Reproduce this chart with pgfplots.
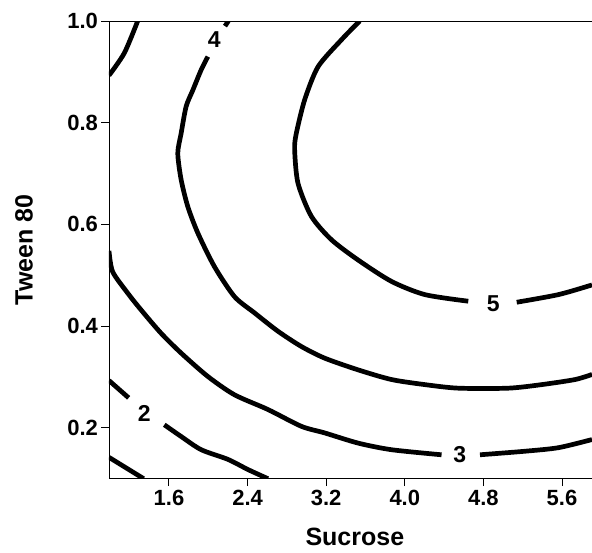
\documentclass[border=0pt]{standalone}
\usepackage{fontspec}
\setmainfont{Liberation Sans}
\usepackage{pgfplots}
\pgfplotsset{compat=1.18}
\begin{document}
\begin{tikzpicture}
\begin{axis}[
  name=ax,
  anchor=south west, at={(0,0)},
  scale only axis, width=483pt, height=457.7pt,
  xmin=0.99, xmax=5.905, ymin=0.1, ymax=1.0,
  axis line style={draw=none},
  xtick={1.6,2.4,3.2,4.0,4.8,5.6},
  ytick={0.2,0.4,0.6,0.8,1.0},
  tick align=outside, major tick length=7.5pt,
  tick style={black, line width=0.9pt},
  xtick pos=bottom, ytick pos=left,
  /pgf/number format/assume math mode=true,
  /pgf/number format/fixed, /pgf/number format/fixed zerofill, /pgf/number format/precision=1,
  tick label style={font=\fontsize{22}{24}\selectfont\bfseries},
  xlabel={Sucrose}, ylabel={Tween 80},
  label style={font=\fontsize{25}{30}\selectfont\bfseries},
  xlabel style={at={(axis description cs:0.509,-0.145)}, anchor=base},
  ylabel style={at={(axis description cs:-0.176,0.5)}, anchor=center},
  cl/.style={black, solid, line width=4.7pt, line join=round, line cap=butt, mark=none, smooth, tension=0.45},
  clip=true,
]
% contour 1
\addplot[cl] coordinates {(0.99,0.142) (1.343,0.1)};
% contour 2
\addplot[cl] coordinates {(0.99,0.293) (1.19,0.259)};
\addplot[cl] coordinates {(1.553,0.206) (1.724,0.183) (1.928,0.157) (2.2,0.138) (2.404,0.118) (2.608,0.1)};
% contour 3
\addplot[cl] coordinates {(0.99,0.893) (1.146,0.937) (1.282,1.0)};
\addplot[cl] coordinates {(0.99,0.548) (1.027,0.507) (1.18,0.465) (1.316,0.432) (1.52,0.386) (1.724,0.347) (1.996,0.301) (2.267,0.265) (2.608,0.236) (2.947,0.203) (3.185,0.19) (3.525,0.170) (3.864,0.157) (4.374,0.147)};
\addplot[cl] coordinates {(4.765,0.147) (5.223,0.154) (5.564,0.161) (5.905,0.177)};
% contour 4
\addplot[cl] coordinates {(2.17,0.99) (2.205,1.0)};
\addplot[cl] coordinates {(1.996,0.930) (1.928,0.904) (1.843,0.864) (1.775,0.832) (1.724,0.779) (1.69,0.740) (1.724,0.688) (1.792,0.635) (1.894,0.583) (2.063,0.517) (2.267,0.458) (2.471,0.426) (2.709,0.390) (2.947,0.360) (3.185,0.337) (3.525,0.314) (3.864,0.295) (4.204,0.285) (4.544,0.278) (5.054,0.278) (5.393,0.285) (5.733,0.295) (5.905,0.305)};
% contour 5
\addplot[cl] coordinates {(3.541,1.0) (3.355,0.963) (3.117,0.910) (2.981,0.845) (2.896,0.779) (2.879,0.747) (2.913,0.681) (3.049,0.616) (3.253,0.570) (3.525,0.530) (3.864,0.488) (4.204,0.462) (4.646,0.449)};
\addplot[cl] coordinates {(5.139,0.447) (5.564,0.462) (5.905,0.481)};
% labels
\node[font=\fontsize{23}{24}\selectfont\bfseries] at (axis cs:2.06,0.963) {4};
\node[font=\fontsize{23}{24}\selectfont\bfseries] at (axis cs:1.35,0.229) {2};
\node[font=\fontsize{23}{24}\selectfont\bfseries] at (axis cs:4.56,0.147) {3};
\node[font=\fontsize{23}{24}\selectfont\bfseries] at (axis cs:4.90,0.445) {5};
\end{axis}
\draw[line width=0.9pt] (ax.north east) -- (ax.north west) -- (ax.south west) -- (ax.south east);
\pgfresetboundingbox
\path[use as bounding box] (-109pt,-74.3pt) rectangle (483pt,478.7pt);
\end{tikzpicture}
\end{document}
